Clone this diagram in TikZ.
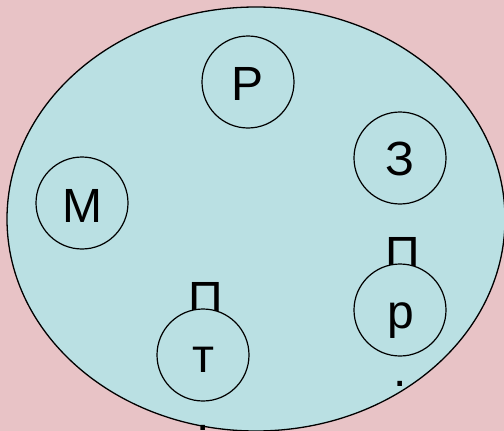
\documentclass[tikz,border=0pt]{standalone}
\usepackage{fontspec}
\setmainfont{Liberation Sans}
\usetikzlibrary{shapes.geometric}
\definecolor{bgpink}{HTML}{E8C3C6}
\definecolor{fillblue}{HTML}{BAE0E3}
\begin{document}
\begin{tikzpicture}[x=1pt,y=-1pt,
  ring/.style={circle,draw=black,line width=1.2pt,fill=fillblue,minimum size=92pt,inner sep=0pt},
  letter/.style={anchor=base,inner sep=0pt,font=\fontsize{48}{57}\selectfont}]
\fill[bgpink] (0,0) rectangle (504,431);
\useasboundingbox (0,0) rectangle (504,431);
\begin{scope}
\clip (0,0) rectangle (504,431);
\node[ellipse,draw=black,line width=1.3pt,fill=fillblue,minimum width=498pt,minimum height=424pt,inner sep=0pt] (oval) at (256,219) {};
% hidden-behind letters
\node[letter] (pe1) at (403,270) {П};
\node[letter] (pe2) at (206,315) {П};
% circles
\node[ring] (cR) at (248,82) {};
\node[ring] (cZ) at (400,158) {};
\node[ring] (cM) at (82,203) {};
\node[ring] (cp) at (400,310) {};
\node[ring] (ct) at (203,355) {};
% letters
\node[letter] (lR) at (248,100) {Р};
\node[letter] (lZ) at (400,175) {З};
\node[letter] (lM) at (82,222) {М};
\node[letter] (lp) at (401,328) {р};
\node[letter] (lt) at (203,372) {т};
\node[letter] (d1) at (400,386) {.};
\node[letter] (d2) at (203,430) {.};
\end{scope}
\end{tikzpicture}
\end{document}
